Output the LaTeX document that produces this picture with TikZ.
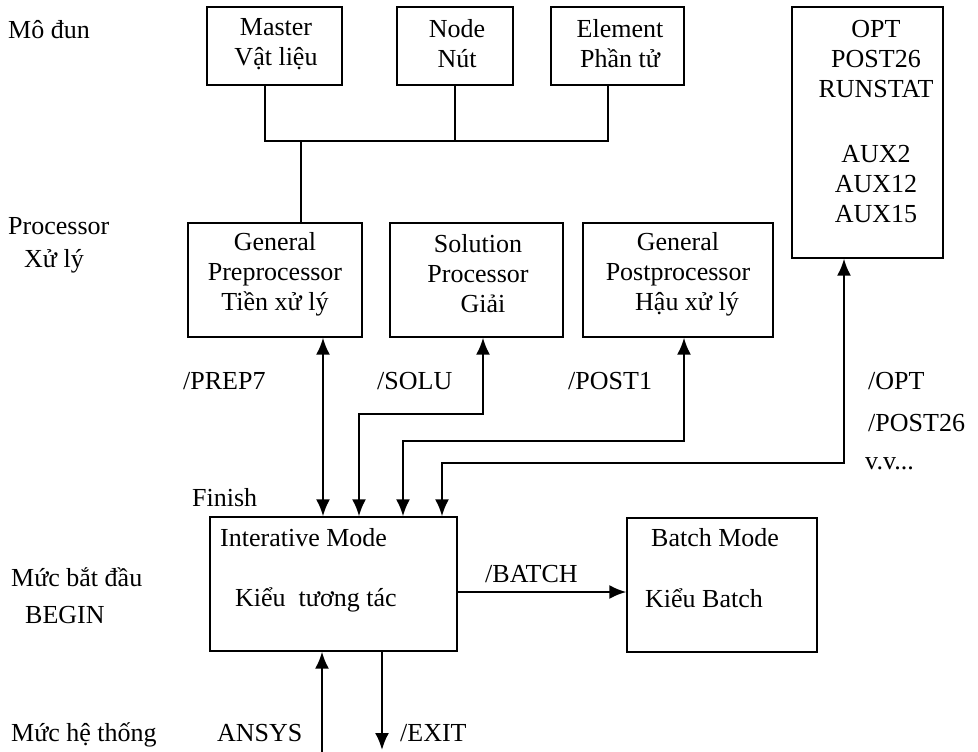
\documentclass[tikz,border=0pt]{standalone}
\usepackage{fontspec}
\setmainfont{Liberation Serif}
\usetikzlibrary{arrows.meta}
\begin{document}
\begin{tikzpicture}[x=1pt,y=-1pt,
  box/.style={draw,line width=1.3pt,inner sep=0pt},
  txt/.style={font=\fontsize{26}{30}\selectfont,align=center,inner sep=0pt},
  lbl/.style={font=\fontsize{26}{30}\selectfont,inner sep=0pt,anchor=base west},
  conn/.style={line width=1.2pt},
  arr/.style={line width=2.2pt,-{Latex[length=17pt,width=14pt]}},
  darr/.style={line width=2.2pt,{Latex[length=17pt,width=14pt]}-{Latex[length=17pt,width=14pt]}}]
\useasboundingbox (0,0) rectangle (978,752);
% module boxes
\node[box,minimum width=135pt,minimum height=78pt] (master) at (274.5,46) {};
\node[txt] (mastert) at (276,44) {Master\\Vật liệu};
\node[box,minimum width=116pt,minimum height=78pt] (nodeb) at (455,46) {};
\node[txt] (nodet) at (457,44) {Node\\Nút};
\node[box,minimum width=133pt,minimum height=78pt] (elem) at (617.5,46) {};
\node[txt] (elemt) at (620,44) {Element\\Phần tử};
\node[box,minimum width=151pt,minimum height=251pt] (opt) at (867.5,132.5) {};
\node[txt] (optt) at (876,122) {OPT\\POST26\\RUNSTAT\\[35pt]AUX2\\AUX12\\AUX15};
% processors
\node[box,minimum width=174pt,minimum height=114pt] (pre) at (275,280) {};
\node[txt] (pret) at (275,274) {General\\Preprocessor\\Tiền xử lý};
\node[box,minimum width=173pt,minimum height=114pt] (sol) at (476.5,280) {};
\node[txt] (solt) at (478,274) {Solution\\Processor\\\hspace*{10pt}Giải};
\node[box,minimum width=190pt,minimum height=114pt] (post) at (678,280) {};
\node[txt] (postt) at (678,274) {General\\Postprocessor\\\hspace*{18pt}Hậu xử lý};
% modes
\node[box,minimum width=247pt,minimum height=134pt] (inter) at (333.5,584) {};
\node[box,minimum width=190pt,minimum height=134pt] (batch) at (722,585) {};
\node[lbl] (intt1) at (220,546) {Interative Mode};
\node[lbl] (intt2) at (235,606) {Kiểu\ \ tương tác};
\node[lbl] (bt1) at (651,546) {Batch Mode};
\node[lbl] (bt2) at (645,607) {Kiểu Batch};
% left labels
\node[lbl] (l1) at (8,39) {Mô đun};
\node[lbl] (l2) at (8,234) {Processor};
\node[lbl] (l3) at (24,267) {Xử lý};
\node[lbl] (l4) at (11,586) {Mức bắt đầu};
\node[lbl] (l5) at (25,623) {BEGIN};
\node[lbl] (l6) at (11,741) {Mức hệ thống};
\node[lbl] (ansys) at (217,741) {ANSYS};
\node[lbl] (exitl) at (400,741) {/EXIT};
\node[lbl] (finish) at (192,506) {Finish};
\node[lbl] (prep7) at (183,389) {/PREP7};
\node[lbl] (solu) at (377,389) {/SOLU};
\node[lbl] (post1) at (568,389) {/POST1};
\node[lbl] (optl) at (868,389) {/OPT};
\node[lbl] (post26) at (868,431) {/POST26};
\node[lbl] (vv) at (865,469) {v.v...};
\node[lbl] (batchl) at (485,582) {/BATCH};
% tree
\coordinate (bl) at (265,141);
\coordinate (br) at (608,141);
\coordinate (bn) at (455,141);
\coordinate (bt) at (301,141);
\draw[conn] (master.south -| bl) -- (bl) -- (br) -- (elem.south -| br);
\draw[conn] (nodeb.south -| bn) -- (bn);
\draw[conn] (bt) -- (pre.north -| bt);
% arrows
\coordinate (xp) at (323,0);
\draw[darr] (pre.south -| xp) -- (inter.north -| xp);
\coordinate (s1) at (359,414);
\coordinate (s2) at (483,414);
\draw[darr] (inter.north -| s1) -- (s1) -- (s2) -- (sol.south -| s2);
\coordinate (q1) at (403,441);
\coordinate (q2) at (684,441);
\draw[darr] (inter.north -| q1) -- (q1) -- (q2) -- (post.south -| q2);
\coordinate (o1) at (442,463);
\coordinate (o2) at (844,463);
\draw[darr] (inter.north -| o1) -- (o1) -- (o2) -- (opt.south -| o2);
\draw[arr] (inter.east |- 0,592) -- (batch.west |- 0,592);
\coordinate (an) at (322,752);
\draw[arr] (an) -- (inter.south -| an);
\coordinate (ex) at (382,750);
\draw[arr] (inter.south -| ex) -- (ex);
\end{tikzpicture}
\end{document}
